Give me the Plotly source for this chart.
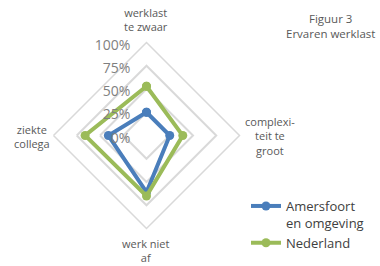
import plotly.graph_objects as go

categories = ["werklast<br>te zwaar", "complexi-<br>teit te<br>groot", "werk niet<br>af", "ziekte<br>collega"]
amersfoort = [0.25, 0.25, 0.61, 0.41]
nederland = [0.53, 0.39, 0.65, 0.66]
series_names = ["Amersfoort<br>en omgeving", "Nederland"]
tick_vals = [0, 0.25, 0.5, 0.75, 1.0]
tick_text = ["0%", "25%", "50%", "75%", "100%"]

blue = "#4A7EBB"
green = "#9BBB59"

fig = go.Figure()
for name, vals, col in [(series_names[0], amersfoort, blue), (series_names[1], nederland, green)]:
    fig.add_trace(go.Scatterpolar(
        r=vals + vals[:1], theta=categories + categories[:1],
        mode="lines+markers", name=name,
        line=dict(color=col, width=4),
        marker=dict(color=col, size=9),
    ))

W, H = 380, 266
cx, cy, R = 146.5, H - 135.5, 93

# category label placement (pixel anchors, top-left origin)
label_pos = [
    dict(x=146, y=36, xanchor="center", yanchor="bottom"),
    dict(x=270, y=136, xanchor="center", yanchor="middle"),
    dict(x=146, y=234, xanchor="center", yanchor="top"),
    dict(x=32, y=136, xanchor="center", yanchor="middle"),
]
annotations = []
for cat, p in zip(categories, label_pos):
    annotations.append(dict(text=cat, x=p["x"] / W, y=1 - p["y"] / H, xref="paper", yref="paper",
                            xanchor=p["xanchor"], yanchor=p["yanchor"], showarrow=False,
                            align="center", font=dict(size=11, color="#595959")))
annotations.append(dict(text="Figuur 3<br>Ervaren werklast", x=1 - 3 / W, y=1 - 9 / H,
                        xref="paper", yref="paper", xanchor="right", yanchor="top", align="center",
                        showarrow=False, font=dict(size=11.5, color="#595959")))

fig.update_layout(
    width=W, height=H,
    margin=dict(l=0, r=0, t=0, b=0),
    paper_bgcolor="white", plot_bgcolor="white",
    font=dict(family="Open Sans", color="#595959"),
    polar=dict(
        domain=dict(x=[(cx - R) / W, (cx + R) / W], y=[(cy - R) / H, (cy + R) / H]),
        gridshape="linear",
        bgcolor="white",
        angularaxis=dict(direction="clockwise", rotation=90, showgrid=False,
                         showline=True, linecolor="#D9D9D9", linewidth=1.5,
                         showticklabels=False, ticks=""),
        radialaxis=dict(range=[0, 1], tickvals=tick_vals, ticktext=tick_text,
                        angle=90, side="counterclockwise", showline=False,
                        gridcolor="#D9D9D9", gridwidth=1.5,
                        tickfont=dict(size=14, color="#7F7F7F"),
                        ticks="outside", ticklen=3, tickcolor="rgba(0,0,0,0)"),
    ),
    legend=dict(x=246 / W, y=1 - 191 / H, xanchor="left", yanchor="top",
                font=dict(size=13, color="#404040"), bgcolor="rgba(0,0,0,0)",
                valign="top", tracegroupgap=3),
    annotations=annotations,
)
fig.write_html("out.html", config={"displayModeBar": False},
               post_script="document.body.style.margin='0';")
